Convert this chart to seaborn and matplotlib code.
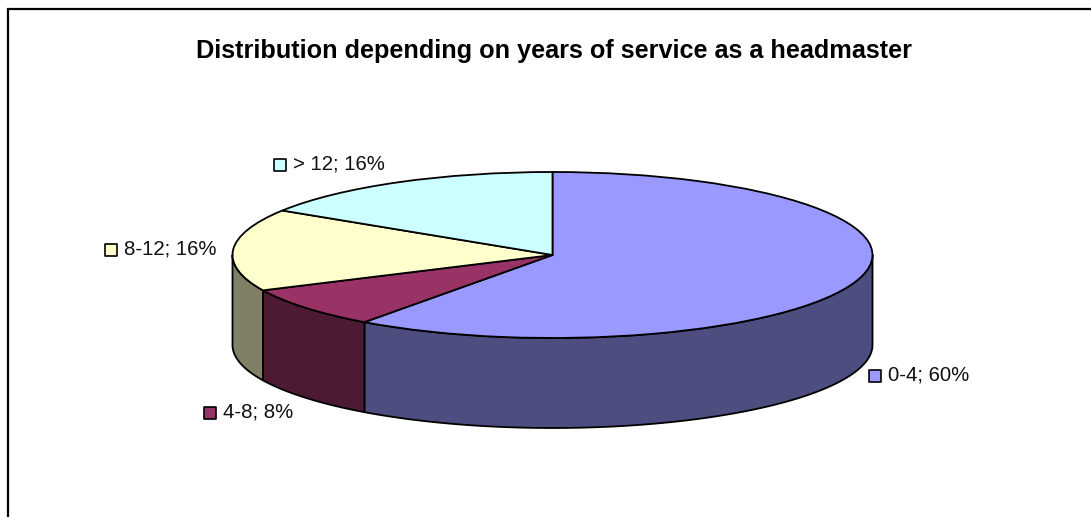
import numpy as np
import matplotlib
matplotlib.use("Agg")
import matplotlib.pyplot as plt
import seaborn as sns

# Data
categories = ["0-4", "4-8", "8-12", "> 12"]
shares = [60, 8, 16, 16]
title = "Distribution depending on years of service as a headmaster"
top_colors = ["#9999FF", "#993366", "#FFFFCC", "#CCFFFF"]
wall_colors = ["#4D4D80", "#4C1A33", "#808066", "#667F7F"]

# Layout (pixels)
W, H = 1091, 517
CX, CY, RX, RY, DEPTH = 552.5, 255.0, 320.0, 83.0, 90.0
label_px = [(875, 376), (210, 413), (111, 250), (280, 165)]

sns.set_theme(style="white")
plt.rcParams["font.family"] = ["Liberation Sans", "DejaVu Sans"]
top_pal = sns.color_palette(top_colors)
wall_pal = sns.color_palette(wall_colors)

fig = plt.figure(figsize=(W / 100, H / 100), dpi=100, facecolor="white")

# Frame / annotation axes in pixel coordinates (only top and left edges show)
frame = fig.add_axes([0, 0, 1, 1])
frame.set_xlim(0, W)
frame.set_ylim(H, 0)
frame.axis("off")
frame.plot([7.5, 7.5, W], [H, 9, 9], color="black", lw=1.6, solid_joinstyle="miter", zorder=1)

# Pie axes: unit circle mapped on the ellipse
ax = fig.add_axes([(CX - RX) / W, 1 - (CY + RY) / H, 2 * RX / W, 2 * RY / H])
ax.patch.set_alpha(0)
ax.axis("off")
depth = DEPTH / RY

edge = dict(edgecolor="black", linewidth=1.3)
fractions = np.array(shares) / np.sum(shares)
ends = 90 - 360 * np.cumsum(fractions)
starts = np.r_[90, ends[:-1]]

# Side walls, visible where the rim faces the viewer
for a0, a1, col in zip(starts, ends, wall_pal):
    lo, hi = max(a1, -180.0), min(a0, 0.0)
    if lo >= hi:
        continue
    t = np.radians(np.linspace(hi, lo, 160))
    xs = np.cos(t)
    ax.fill(np.r_[xs, xs[::-1]], np.r_[np.sin(t), np.sin(t)[::-1] - depth],
            facecolor=col, clip_on=False, joinstyle="round", **edge)

ax.pie(shares, startangle=90, counterclock=False, colors=top_pal, radius=1,
       center=(0, 0), wedgeprops=dict(clip_on=False, **edge), normalize=True)
ax.set_aspect("auto")
ax.set_xlim(-1, 1)
ax.set_ylim(-1, 1)
ax.axis("off")

# Title and data labels
frame.text(554, 51, title, ha="center", va="center", fontsize=18.2, fontweight="bold", color="black")
frame.set_zorder(3)
for (x, y), cat, val, col in zip(label_px, categories, shares, top_pal):
    frame.scatter([x], [y], marker="s", s=70, facecolor=col, edgecolor="black", linewidth=1.2, zorder=4)
    frame.text(x + 13, y - 1, f"{cat}; {val}%", ha="left", va="center", fontsize=14.7, color="#111111")

fig.savefig("out.png", dpi=100, facecolor="white")
